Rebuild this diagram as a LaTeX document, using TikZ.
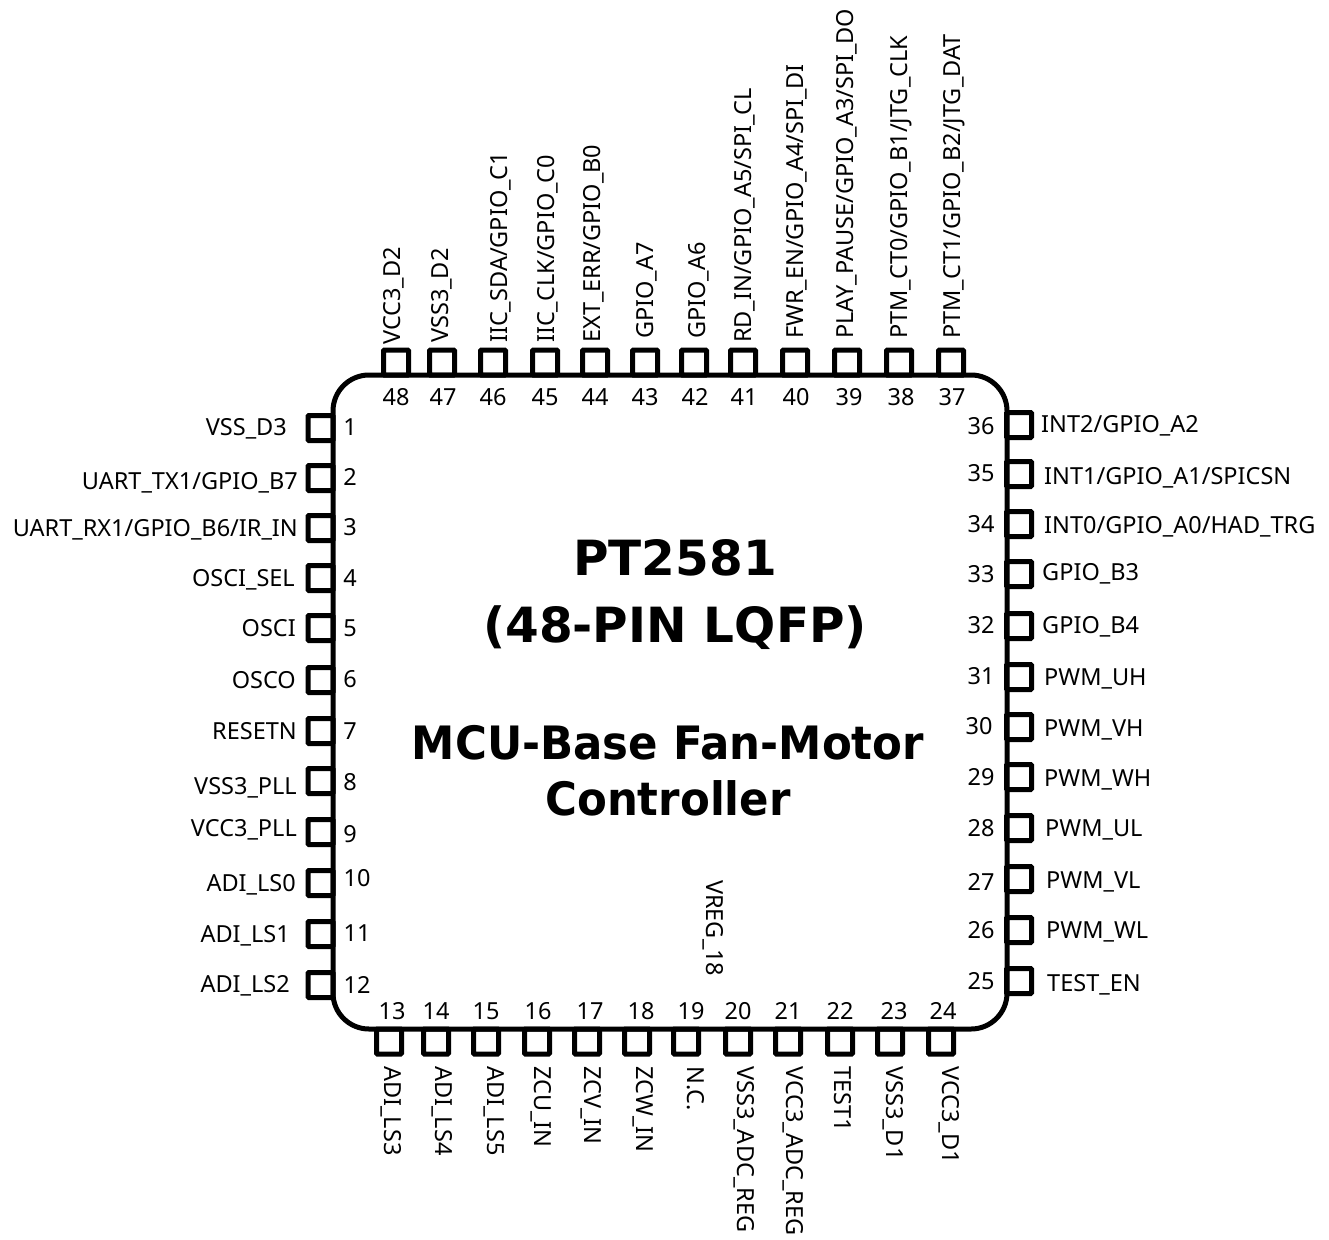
\documentclass[tikz,border=0pt]{standalone}
\usepackage{fontspec}
\setmainfont{Noto Sans}
\newfontfamily\titlefont{DejaVu Sans}
\newfontfamily\subfont[FakeStretch=0.945]{DejaVu Sans}
\begin{document}
\begin{tikzpicture}[
    x=1pt, y=-1pt,
    chipbody/.style={draw, rounded corners=36pt, line width=5pt, minimum width=674pt, minimum height=654pt},
    pinbox/.style={draw, rounded corners=1pt, line width=5pt, minimum size=25pt, inner sep=0pt},
    pinnum/.style={inner sep=0pt, font=\fontsize{23.5}{28}\selectfont},
    pinname/.style={inner sep=0pt, font=\fontsize{23.5}{28}\selectfont},
    nameleft/.style={pinname, anchor=mid east, yshift=-6pt},
    nameright/.style={pinname, anchor=mid west, yshift=-6pt},
    nameup/.style={pinname, rotate=90, anchor=mid west, xshift=-2pt, yshift=-5pt},
    namedown/.style={pinname, rotate=-90, anchor=mid west, yshift=-3pt},
    titletext/.style={inner sep=0pt, align=center, font=\titlefont\bfseries\fontsize{48.5}{67}\selectfont},
    subtext/.style={inner sep=0pt, align=center, font=\subfont\bfseries\fontsize{46}{56}\selectfont}
]
\useasboundingbox (0,0) rectangle (1329,1239);

% Chip body
\node[chipbody] (chip) at (670,702) {};
\node[titletext] (title) at (675,595) {PT2581\\(48-PIN LQFP)};
\node[subtext] (subtitle) at (668,771) {MCU-Base Fan-Motor\\Controller};
\node[namedown] (vreg) at (712,880) {VREG\_18};

% Left pins
\node[pinbox] (p1) at (320.5,428) {};
\node[pinbox] (p2) at (320.5,478) {};
\node[pinbox] (p3) at (320.5,528) {};
\node[pinbox] (p4) at (320.5,578) {};
\node[pinbox] (p5) at (320.5,628) {};
\node[pinbox] (p6) at (320.5,680) {};
\node[pinbox] (p7) at (320.5,731) {};
\node[pinbox] (p8) at (320.5,781) {};
\node[pinbox] (p9) at (320.5,832) {};
\node[pinbox] (p10) at (320.5,883) {};
\node[pinbox] (p11) at (320.5,934) {};
\node[pinbox] (p12) at (320.5,985) {};

\node[pinnum] (n1) at (350,427) {1};
\node[pinnum] (n2) at (350,477) {2};
\node[pinnum] (n3) at (350,527) {3};
\node[pinnum] (n4) at (350,578) {4};
\node[pinnum] (n5) at (350,628) {5};
\node[pinnum] (n6) at (350,679) {6};
\node[pinnum] (n7) at (350,731) {7};
\node[pinnum] (n8) at (350,782) {8};
\node[pinnum] (n9) at (350,834) {9};
\node[pinnum] (n10) at (357,878) {10};
\node[pinnum] (n11) at (357,933) {11};
\node[pinnum] (n12) at (357,985) {12};

\node[nameleft] (l1) at (287,427) {VSS\_D3};
\node[nameleft] (l2) at (298,481) {UART\_TX1/GPIO\_B7};
\node[nameleft] (l3) at (298,528) {UART\_RX1/GPIO\_B6/IR\_IN};
\node[nameleft] (l4) at (295,578) {OSCI\_SEL};
\node[nameleft] (l5) at (296,628) {OSCI};
\node[nameleft] (l6) at (296,680) {OSCO};
\node[nameleft] (l7) at (297,731) {RESETN};
\node[nameleft] (l8) at (297,786) {VSS3\_PLL};
\node[nameleft] (l9) at (297,828) {VCC3\_PLL};
\node[nameleft] (l10) at (296,883) {ADI\_LS0};
\node[nameleft] (l11) at (290,934) {ADI\_LS1};
\node[nameleft] (l12) at (290,984) {ADI\_LS2};

% Bottom pins
\node[pinbox] (p13) at (389,1041.5) {};
\node[pinbox] (p14) at (436,1041.5) {};
\node[pinbox] (p15) at (486,1041.5) {};
\node[pinbox] (p16) at (537,1041.5) {};
\node[pinbox] (p17) at (587,1041.5) {};
\node[pinbox] (p18) at (637,1041.5) {};
\node[pinbox] (p19) at (686,1041.5) {};
\node[pinbox] (p20) at (738,1041.5) {};
\node[pinbox] (p21) at (788,1041.5) {};
\node[pinbox] (p22) at (840,1041.5) {};
\node[pinbox] (p23) at (890,1041.5) {};
\node[pinbox] (p24) at (941,1041.5) {};

\node[pinnum] (n13) at (392,1011) {13};
\node[pinnum] (n14) at (436,1011) {14};
\node[pinnum] (n15) at (486,1011) {15};
\node[pinnum] (n16) at (538,1011) {16};
\node[pinnum] (n17) at (590,1011) {17};
\node[pinnum] (n18) at (641,1011) {18};
\node[pinnum] (n19) at (691,1011) {19};
\node[pinnum] (n20) at (738,1011) {20};
\node[pinnum] (n21) at (788,1011) {21};
\node[pinnum] (n22) at (840,1011) {22};
\node[pinnum] (n23) at (894,1011) {23};
\node[pinnum] (n24) at (943,1011) {24};

\node[namedown] (l13) at (390,1066) {ADI\_LS3};
\node[namedown] (l14) at (441,1066) {ADI\_LS4};
\node[namedown] (l15) at (493,1066) {ADI\_LS5};
\node[namedown] (l16) at (540,1066) {ZCU\_IN};
\node[namedown] (l17) at (590,1066) {ZCV\_IN};
\node[namedown] (l18) at (642,1066) {ZCW\_IN};
\node[namedown] (l19) at (693,1066) {N.C.};
\node[namedown] (l20) at (743,1066) {VSS3\_ADC\_REG};
\node[namedown] (l21) at (792,1066) {VCC3\_ADC\_REG};
\node[namedown] (l22) at (840,1066) {TEST1};
\node[namedown] (l23) at (892,1066) {VSS3\_D1};
\node[namedown] (l24) at (948,1066) {VCC3\_D1};

% Right pins
\node[pinbox] (p25) at (1019,981) {};
\node[pinbox] (p26) at (1019,930) {};
\node[pinbox] (p27) at (1019,879) {};
\node[pinbox] (p28) at (1019,828) {};
\node[pinbox] (p29) at (1019,777) {};
\node[pinbox] (p30) at (1019,727) {};
\node[pinbox] (p31) at (1019,677) {};
\node[pinbox] (p32) at (1019,626) {};
\node[pinbox] (p33) at (1019,574) {};
\node[pinbox] (p34) at (1019,524) {};
\node[pinbox] (p35) at (1019,474) {};
\node[pinbox] (p36) at (1019,425) {};

\node[pinnum] (n25) at (981,981) {25};
\node[pinnum] (n26) at (981,930) {26};
\node[pinnum] (n27) at (981,882) {27};
\node[pinnum] (n28) at (981,828) {28};
\node[pinnum] (n29) at (981,777) {29};
\node[pinnum] (n30) at (979,726) {30};
\node[pinnum] (n31) at (981,676) {31};
\node[pinnum] (n32) at (981,625) {32};
\node[pinnum] (n33) at (981,574) {33};
\node[pinnum] (n34) at (981,524) {34};
\node[pinnum] (n35) at (981,473) {35};
\node[pinnum] (n36) at (981,426) {36};

\node[nameright] (l25) at (1047,983) {TEST\_EN};
\node[nameright] (l26) at (1046,930) {PWM\_WL};
\node[nameright] (l27) at (1046,880) {PWM\_VL};
\node[nameright] (l28) at (1045,828) {PWM\_UL};
\node[nameright] (l29) at (1044,778) {PWM\_WH};
\node[nameright] (l30) at (1044,728) {PWM\_VH};
\node[nameright] (l31) at (1044,677) {PWM\_UH};
\node[nameright] (l32) at (1042,625) {GPIO\_B4};
\node[nameright] (l33) at (1042,572) {GPIO\_B3};
\node[nameright] (l34) at (1044,525) {INT0/GPIO\_A0/HAD\_TRG};
\node[nameright] (l35) at (1044,476) {INT1/GPIO\_A1/SPICSN};
\node[nameright] (l36) at (1041,424) {INT2/GPIO\_A2};

% Top pins
\node[pinbox] (p37) at (951,362.5) {};
\node[pinbox] (p38) at (899,362.5) {};
\node[pinbox] (p39) at (847,362.5) {};
\node[pinbox] (p40) at (795,362.5) {};
\node[pinbox] (p41) at (743,362.5) {};
\node[pinbox] (p42) at (694,362.5) {};
\node[pinbox] (p43) at (645,362.5) {};
\node[pinbox] (p44) at (595,362.5) {};
\node[pinbox] (p45) at (545,362.5) {};
\node[pinbox] (p46) at (493,362.5) {};
\node[pinbox] (p47) at (442,362.5) {};
\node[pinbox] (p48) at (396,362.5) {};

\node[pinnum] (n37) at (952,397) {37};
\node[pinnum] (n38) at (901,397) {38};
\node[pinnum] (n39) at (849,397) {39};
\node[pinnum] (n40) at (796,397) {40};
\node[pinnum] (n41) at (744,397) {41};
\node[pinnum] (n42) at (695,397) {42};
\node[pinnum] (n43) at (645,397) {43};
\node[pinnum] (n44) at (595,397) {44};
\node[pinnum] (n45) at (545,397) {45};
\node[pinnum] (n46) at (493,397) {46};
\node[pinnum] (n47) at (443,397) {47};
\node[pinnum] (n48) at (396,397) {48};

\node[nameup] (l37) at (953,337) {PTM\_CT1/GPIO\_B2/JTG\_DAT};
\node[nameup] (l38) at (900,337) {PTM\_CT0/GPIO\_B1/JTG\_CLK};
\node[nameup] (l39) at (846,337) {PLAY\_PAUSE/GPIO\_A3/SPI\_DO};
\node[nameup] (l40) at (796,337) {FWR\_EN/GPIO\_A4/SPI\_DI};
\node[nameup] (l41) at (744,341) {RD\_IN/GPIO\_A5/SPI\_CL};
\node[nameup] (l42) at (698,337) {GPIO\_A6};
\node[nameup] (l43) at (646,337) {GPIO\_A7};
\node[nameup] (l44) at (593,341) {EXT\_ERR/GPIO\_B0};
\node[nameup] (l45) at (547,341) {IIC\_CLK/GPIO\_C0};
\node[nameup] (l46) at (500,341) {IIC\_SDA/GPIO\_C1};
\node[nameup] (l47) at (441,341) {VSS3\_D2};
\node[nameup] (l48) at (393,343) {VCC3\_D2};

\end{tikzpicture}
\end{document}
